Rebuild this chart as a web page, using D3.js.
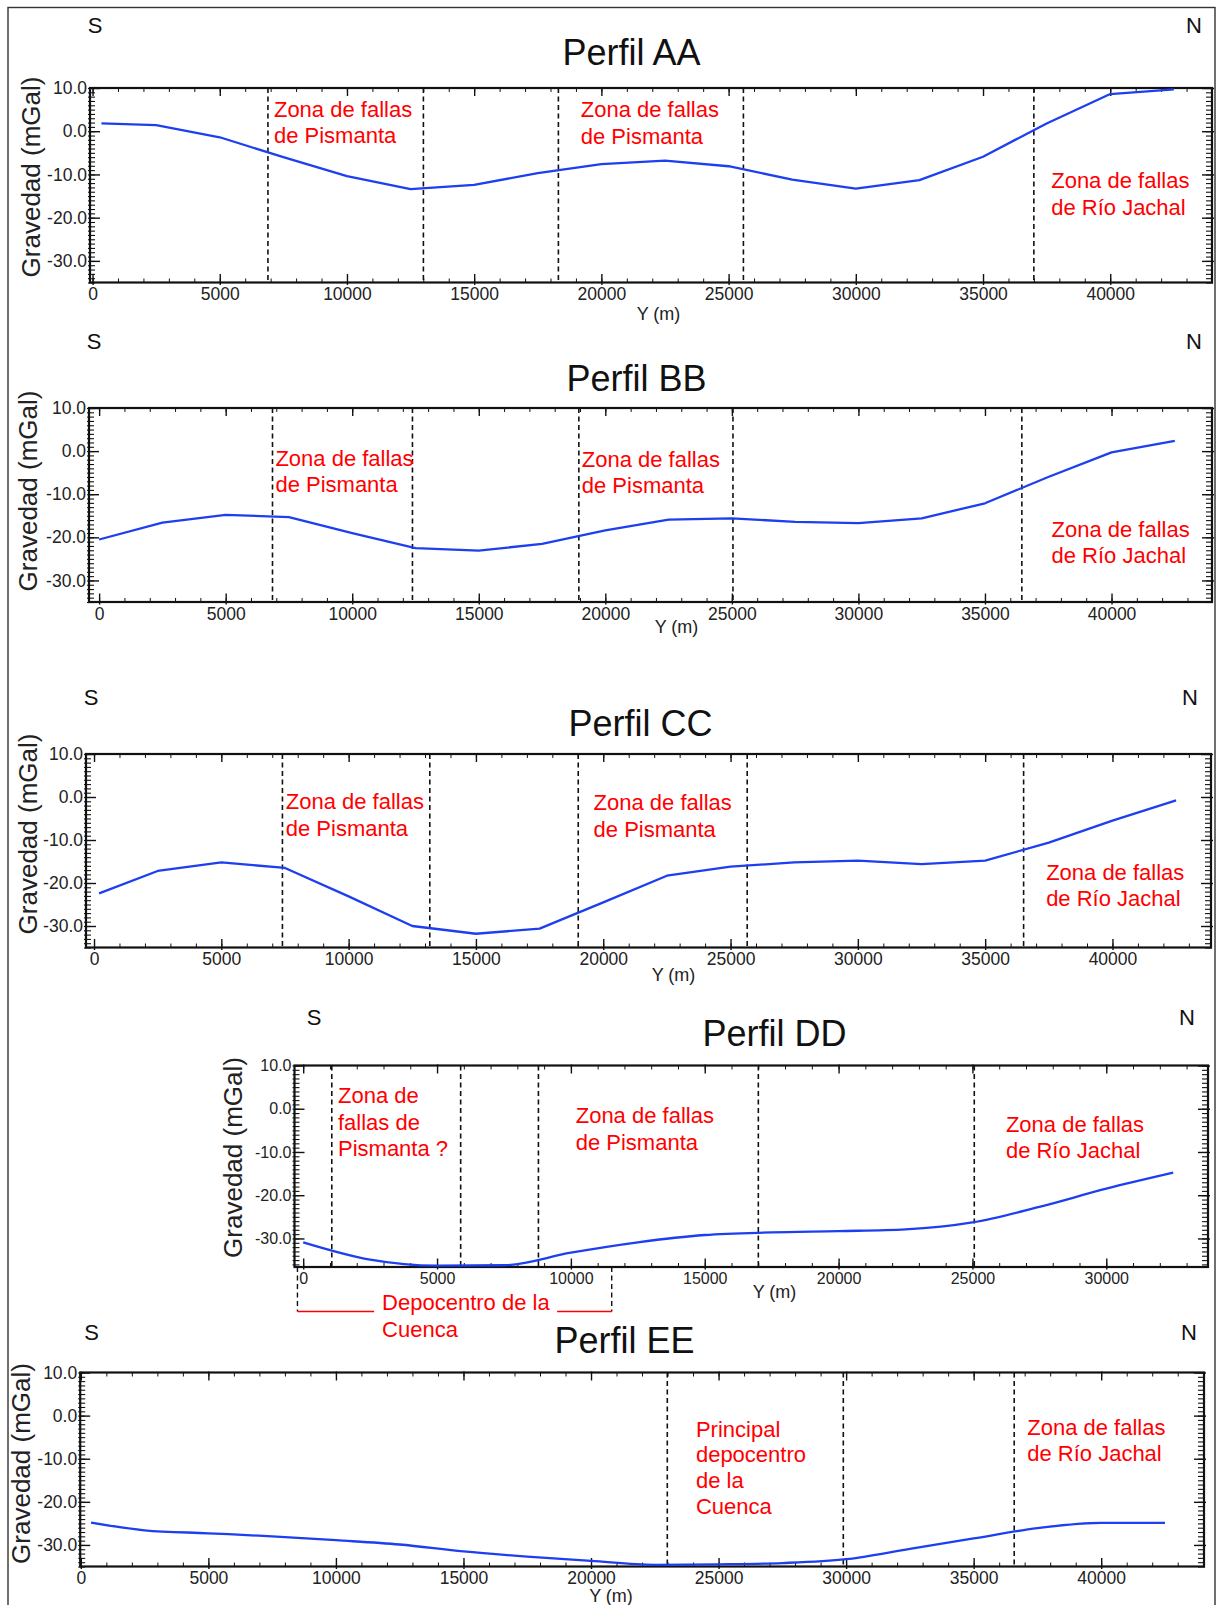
<!DOCTYPE html>
<html>
<head>
<meta charset="utf-8">
<script src="https://cdn.jsdelivr.net/npm/d3@7"></script>
<style>
body { margin: 0; background: #fff; }
svg { display: block; font-family: "Liberation Sans", Arial, Helvetica, sans-serif; }
</style>
</head>
<body>
<svg id="fig" width="1223" height="1605"></svg>
<script>

// ---- Perfil AA ----
var distAA = [350, 2500, 5000, 7500, 10000, 12500, 15000, 17500, 20000, 22500, 25000, 27500, 30000, 32500, 35000, 37500, 40000, 42500];
var gravAA = [1.8, 1.4, -1.4, -6.0, -10.4, -13.4, -12.4, -9.7, -7.6, -6.8, -8.1, -11.2, -13.3, -11.3, -5.9, 1.8, 8.6, 9.7];
var faultsAA = [6894, 13004, 18310, 25582, 36998];
var notesAA = [
    { x: 7130, y: 3.4, lines: ["Zona de fallas", "de Pismanta"] },
    { x: 19190, y: 3.2, lines: ["Zona de fallas", "de Pismanta"] },
    { x: 37680, y: -13.2, lines: ["Zona de fallas", "de Río Jachal"] }
];

// ---- Perfil BB ----
var distBB = [0, 2500, 5000, 7500, 10000, 12500, 15000, 17500, 20000, 22500, 25000, 27500, 30000, 32500, 35000, 37500, 40000, 42500];
var gravBB = [-20.5, -16.6, -14.8, -15.3, -19.0, -22.5, -23.1, -21.5, -18.4, -15.9, -15.6, -16.4, -16.7, -15.6, -12.1, -6.0, -0.3, 2.4];
var faultsBB = [6850, 12380, 18954, 25043, 36457];
var notesBB = [
    { x: 6965, y: -3.4, lines: ["Zona de fallas", "de Pismanta"] },
    { x: 19070, y: -3.6, lines: ["Zona de fallas", "de Pismanta"] },
    { x: 37630, y: -19.9, lines: ["Zona de fallas", "de Río Jachal"] }
];

// ---- Perfil CC ----
var distCC = [200, 2500, 5000, 7500, 10000, 12500, 15000, 17500, 20000, 22500, 25000, 27500, 30000, 32500, 35000, 37500, 40000, 42500];
var gravCC = [-22.4, -17.2, -15.2, -16.5, -23.1, -30.0, -31.8, -30.6, -24.5, -18.3, -16.2, -15.2, -14.8, -15.6, -14.8, -10.6, -5.5, -0.8];
var faultsCC = [7400, 13188, 19018, 25654, 36510];
var notesCC = [
    { x: 7530, y: -2.9, lines: ["Zona de fallas", "de Pismanta"] },
    { x: 19620, y: -3.1, lines: ["Zona de fallas", "de Pismanta"] },
    { x: 37395, y: -19.3, lines: ["Zona de fallas", "de Río Jachal"] }
];

// ---- Perfil DD ----
var distDD = [0, 2500, 5000, 7500, 10000, 12500, 15000, 17500, 20000, 22500, 25000, 27500, 30000, 32500];
var gravDD = [-30.9, -34.9, -36.3, -36.2, -33.3, -30.9, -29.2, -28.6, -28.3, -27.9, -26.3, -22.7, -18.5, -14.8];
var faultsDD = [1068, 5882, 8787, 17002, 25069];
var notesDD = [
    { x: 1300, y: 1.25, lines: ["Zona de", "fallas de", "Pismanta ?"] },
    { x: 10180, y: -3.4, lines: ["Zona de fallas", "de Pismanta"] },
    { x: 26250, y: -5.4, lines: ["Zona de fallas", "de Río Jachal"] }
];
var depoSpanDD = [-215, 11525];
var depoRedDD = [[-215, 2650], [9485, 11525]];
var depoTextDD = { x: 2947, lines: ["Depocentro de la", "Cuenca"] };

// ---- Perfil EE ----
var distEE = [400, 2500, 5000, 7500, 10000, 12500, 15000, 17500, 20000, 22500, 25000, 27500, 30000, 32500, 35000, 37500, 40000, 42500];
var gravEE = [-24.8, -26.6, -27.3, -28.0, -28.9, -29.9, -31.5, -32.7, -33.7, -34.6, -34.5, -34.2, -33.3, -30.9, -28.5, -26.1, -24.9, -24.9];
var faultsEE = [22990, 29890, 36590];
var notesEE = [
    { x: 24112, y: -4.9, lines: ["Principal", "depocentro", "de la", "Cuenca"] },
    { x: 37100, y: -4.6, lines: ["Zona de fallas", "de Río Jachal"] }
];

var yTicks = [-30, -20, -10, 0, 10];

// layout of each profile (pixels) + which data it uses
var panels = [
    { name: "AA", dist: distAA, grav: gravAA, faults: faultsAA, notes: notesAA,
      box: { l: 90, r: 1212, t: 88, b: 282.5 }, xDom: [-100, 44000], yDom: [-35, 10],
      curve: d3.curveLinear, sx: 95, nx: 1194, sny: 32.5, tx: 631.5, ty: 65,
      ylx: 30.5, yly: 177, xlx: 658.5, xly: 320, tick: 17.5, lh: 26.5 },
    { name: "BB", dist: distBB, grav: gravBB, faults: faultsBB, notes: notesBB,
      box: { l: 89, r: 1212, t: 408, b: 602 }, xDom: [-400, 43970], yDom: [-35, 10],
      curve: d3.curveLinear, sx: 94, nx: 1194, sny: 349, tx: 636.5, ty: 390.5,
      ylx: 28, yly: 491, xlx: 676.5, xly: 633, tick: 17.5, lh: 26.5 },
    { name: "CC", dist: distCC, grav: gravCC, faults: faultsCC, notes: notesCC,
      box: { l: 86, r: 1211, t: 754, b: 947.5 }, xDom: [-315, 43870], yDom: [-35, 10],
      curve: d3.curveLinear, sx: 91, nx: 1190, sny: 705, tx: 640.5, ty: 736,
      ylx: 28, yly: 834, xlx: 673.5, xly: 981, tick: 17.5, lh: 26.5 },
    { name: "DD", dist: distDD, grav: gravDD, faults: faultsDD, notes: notesDD,
      box: { l: 294.5, r: 1208, t: 1065.5, b: 1267 }, xDom: [-325, 33800], yDom: [-36.6, 10],
      curve: d3.curveMonotoneX, sx: 314, nx: 1187, sny: 1024.5, tx: 774.5, ty: 1046,
      ylx: 233, yly: 1157.5, xlx: 774.5, xly: 1298, tick: 16, lh: 26.3 },
    { name: "EE", dist: distEE, grav: gravEE, faults: faultsEE, notes: notesEE,
      box: { l: 80.2, r: 1204, t: 1372.5, b: 1566.5 }, xDom: [-25, 44030], yDom: [-35, 10],
      curve: d3.curveMonotoneX, sx: 91.5, nx: 1189, sny: 1340, tx: 624.5, ty: 1352.5,
      ylx: 20.5, yly: 1463.5, xlx: 611, xly: 1601.5, tick: 17.5, lh: 25.7 }
];

var svg = d3.select("#fig");

// thin border round the whole figure
svg.append("rect")
    .attr("x", 8).attr("y", 7.5)
    .attr("width", 1207).attr("height", 1650)
    .attr("fill", "none")
    .attr("stroke", "#333")
    .attr("stroke-width", 1.4);

panels.forEach(drawPanel);

function cleanAxis(sel, w) {
    sel.select(".domain").remove();
    sel.selectAll(".tick line").attr("stroke", "#111").attr("stroke-width", w);
}

function drawPanel(p) {
    var b = p.box;
    var x = d3.scaleLinear().domain(p.xDom).range([b.l, b.r]);
    var y = d3.scaleLinear().domain(p.yDom).range([b.b, b.t]);
    var g = svg.append("g").attr("class", "panel-" + p.name);

    var xMajor = d3.range(0, p.xDom[1], 5000);
    var xMinor = d3.range(0, p.xDom[1], 1000);
    var yMinor = d3.range(Math.ceil(p.yDom[0]), p.yDom[1] + 0.01, 1);

    // minor ticks, all four sides, pointing inward
    g.append("g").attr("transform", "translate(0," + b.b + ")")
        .call(d3.axisBottom(x).tickValues(xMinor).tickSize(-4).tickFormat(""))
        .call(cleanAxis, 1);
    g.append("g").attr("transform", "translate(0," + b.t + ")")
        .call(d3.axisTop(x).tickValues(xMinor).tickSize(-4).tickFormat(""))
        .call(cleanAxis, 1);
    g.append("g").attr("transform", "translate(" + (b.l - 2) + ",0)")
        .call(d3.axisLeft(y).tickValues(yMinor).tickSize(-7).tickFormat(""))
        .call(cleanAxis, 1.1);
    g.append("g").attr("transform", "translate(" + (b.r + 1) + ",0)")
        .call(d3.axisRight(y).tickValues(yMinor).tickSize(-7).tickFormat(""))
        .call(cleanAxis, 1.1);

    // major ticks + labels
    var xAx = g.append("g").attr("transform", "translate(0," + (b.b + 2.5) + ")")
        .call(d3.axisBottom(x).tickValues(xMajor).tickSize(-11).tickPadding(3)
            .tickFormat(d3.format("d")))
        .call(cleanAxis, 1.4);
    xAx.selectAll("text").attr("fill", "#222").style("font-size", p.tick + "px");

    g.append("g").attr("transform", "translate(0," + (b.t - 1) + ")")
        .call(d3.axisTop(x).tickValues(xMajor).tickSize(-9).tickFormat(""))
        .call(cleanAxis, 1.4);

    var yAx = g.append("g").attr("transform", "translate(" + b.l + ",0)")
        .call(d3.axisLeft(y).tickValues(yTicks).tickSize(-10).tickPadding(3)
            .tickFormat(function(d) { return d.toFixed(1); }))
        .call(cleanAxis, 1.4);
    yAx.selectAll("text").attr("fill", "#222").style("font-size", p.tick + "px");

    g.append("g").attr("transform", "translate(" + (b.r + 2) + ",0)")
        .call(d3.axisRight(y).tickValues(yTicks).tickSize(-12).tickFormat(""))
        .call(cleanAxis, 1.4);

    // frame
    g.append("rect")
        .attr("x", b.l).attr("y", b.t)
        .attr("width", b.r - b.l).attr("height", b.b - b.t)
        .attr("fill", "none")
        .attr("stroke", "#111")
        .attr("stroke-width", 2.2);

    // fault zone boundaries
    g.selectAll(".fault")
        .data(p.faults)
        .enter()
        .append("line")
        .attr("class", "fault")
        .attr("x1", function(d) { return x(d); })
        .attr("x2", function(d) { return x(d); })
        .attr("y1", b.t)
        .attr("y2", b.b)
        .attr("stroke", "#111")
        .attr("stroke-width", 1.6)
        .attr("stroke-dasharray", "5,3.5");

    // gravity profile
    var pts = p.dist.map(function(d, i) { return [d, p.grav[i]]; });
    g.append("path")
        .datum(pts)
        .attr("fill", "none")
        .attr("stroke", "#1d3ff0")
        .attr("stroke-width", 2.3)
        .attr("stroke-linejoin", "round")
        .attr("d", d3.line()
            .curve(p.curve)
            .x(function(d) { return x(d[0]); })
            .y(function(d) { return y(d[1]); }));

    // red annotations
    p.notes.forEach(function(n) {
        var t = g.append("text")
            .attr("x", x(n.x))
            .attr("y", y(n.y))
            .attr("fill", "#ff0000")
            .style("font-size", "22px");
        n.lines.forEach(function(s, i) {
            t.append("tspan")
                .attr("x", x(n.x))
                .attr("dy", i === 0 ? 0 : p.lh)
                .text(s);
        });
    });

    // titles, S / N, axis labels
    g.append("text").attr("x", p.tx).attr("y", p.ty)
        .attr("text-anchor", "middle").attr("fill", "#111")
        .style("font-size", "36px").text("Perfil " + p.name);
    g.append("text").attr("x", p.sx).attr("y", p.sny)
        .attr("text-anchor", "middle").attr("fill", "#111")
        .style("font-size", "22px").text("S");
    g.append("text").attr("x", p.nx).attr("y", p.sny)
        .attr("text-anchor", "middle").attr("fill", "#111")
        .style("font-size", "22px").text("N");
    g.append("text").attr("x", p.xlx).attr("y", p.xly)
        .attr("text-anchor", "middle").attr("fill", "#222")
        .style("font-size", "18px").text("Y (m)");
    g.append("text")
        .attr("transform", "translate(" + p.ylx + "," + p.yly + ") rotate(-90)")
        .attr("text-anchor", "middle")
        .attr("dominant-baseline", "central")
        .attr("fill", "#222")
        .style("font-size", "26px")
        .text("Gravedad (mGal)");

    if (p.name === "DD") {
        var drop = 44.5;
        g.selectAll(".depo-edge")
            .data(depoSpanDD)
            .enter()
            .append("line")
            .attr("class", "depo-edge")
            .attr("x1", function(d) { return x(d); })
            .attr("x2", function(d) { return x(d); })
            .attr("y1", b.b)
            .attr("y2", b.b + drop)
            .attr("stroke", "#111")
            .attr("stroke-width", 1.4)
            .attr("stroke-dasharray", "5,3.5");
        g.selectAll(".depo-red")
            .data(depoRedDD)
            .enter()
            .append("line")
            .attr("class", "depo-red")
            .attr("x1", function(d) { return x(d[0]); })
            .attr("x2", function(d) { return x(d[1]); })
            .attr("y1", b.b + drop)
            .attr("y2", b.b + drop)
            .attr("stroke", "#ff0000")
            .attr("stroke-width", 1.6);
        depoTextDD.lines.forEach(function(s, i) {
            g.append("text")
                .attr("x", x(depoTextDD.x))
                .attr("y", b.b + 43 + i * 26.5)
                .attr("fill", "#ff0000")
                .style("font-size", "22px")
                .text(s);
        });
    }
}
</script>
</body>
</html>
